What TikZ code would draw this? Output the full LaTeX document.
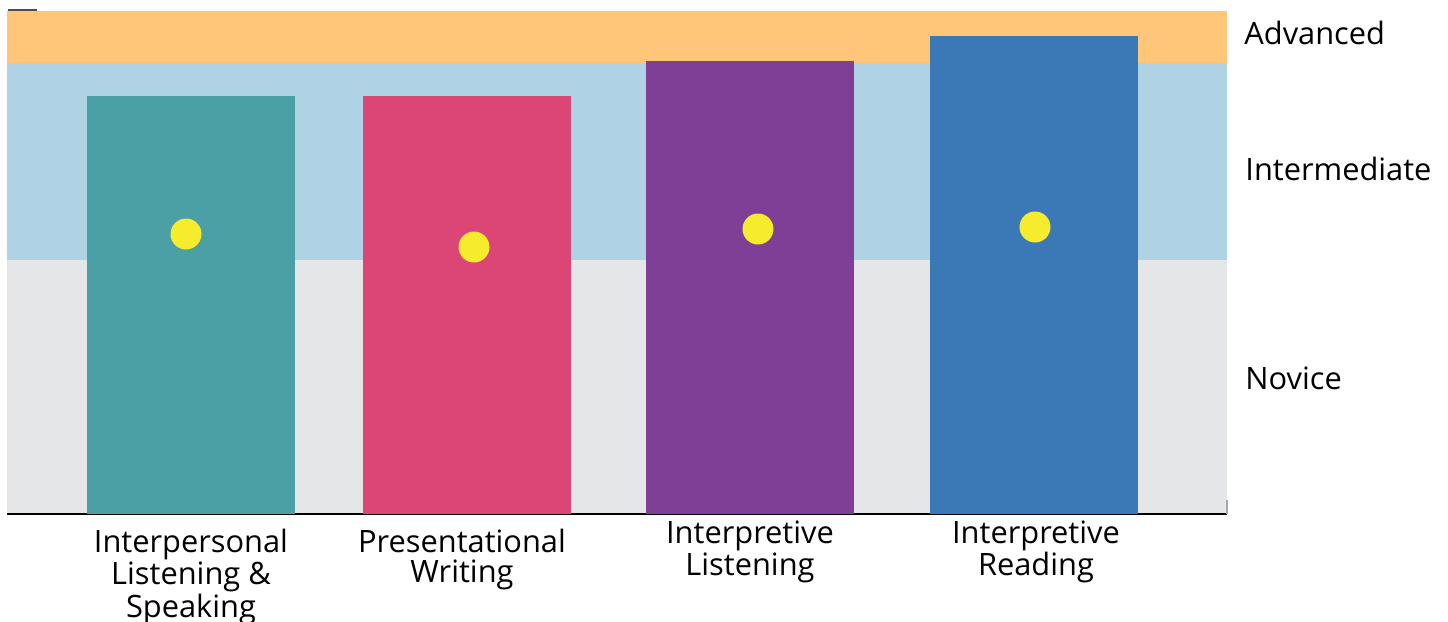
\documentclass[tikz,border=0pt]{standalone}
\usepackage{fontspec}
\setmainfont{Open Sans}
\usetikzlibrary{positioning}
\definecolor{advorange}{HTML}{FFC67A}
\definecolor{intblue}{HTML}{AFD2E4}
\definecolor{novgray}{HTML}{E5E6E8}
\definecolor{barteal}{HTML}{4AA0A5}
\definecolor{barpink}{HTML}{DC4676}
\definecolor{barpurple}{HTML}{7F3F97}
\definecolor{barblue}{HTML}{3A79B6}
\definecolor{dotyellow}{HTML}{F6EB2C}
\tikzset{%
   band/.style={
      inner sep=0mm,
      outer sep=0mm,
      anchor=north west,
      minimum width=610pt,
      minimum height=#1
   },
   bar/.style={
      inner sep=0mm,
      outer sep=0mm,
      anchor=south,
      minimum width=104pt,
      minimum height=#1
   },
   dot/.style={
      circle,
      inner sep=0mm,
      outer sep=0mm,
      minimum size=15.5pt,
      fill=dotyellow
   },
   level/.style={
      anchor=base west,
      inner sep=0pt,
      font=\fontsize{15.4}{15.4}\selectfont
   },
   skill/.style={
      anchor=north,
      align=center,
      inner sep=0pt,
      font=\fontsize{15.4}{15}\selectfont
   },
}

\begin{document}
\begin{tikzpicture}[x=0.5pt, y=-0.5pt]
   \useasboundingbox (0,0) rectangle (1448,622);
   % levels
   \node[band=26pt, fill=advorange] (adv) at (7,11) {};
   \node[band=98.5pt, fill=intblue] (int) at (adv.south west) {};
   \node[band=127pt, fill=novgray] (nov) at (int.south west) {};
   \draw[line width=1pt] (nov.south west) -- (nov.south east);
   \draw[gray!60!black, line width=0.8pt] (8,10) -- (37,10);
   \draw[gray!70, line width=0.8pt] (nov.south east) -- ++(0,-14);
   \node[level] at (1244,44) {Advanced};
   \node[level] at (1245,180) {Intermediate};
   \node[level] at (1245,389) {Novice};
   % bars
   \node[bar=209pt, fill=barteal] (ils) at (191,514) {};
   \node[bar=209pt, fill=barpink] (pw) at (467,514) {};
   \node[bar=226.5pt, fill=barpurple] (il) at (750,514) {};
   \node[bar=239pt, fill=barblue] (ir) at (1034,514) {};
   \node[dot] (ilsdot) at (186,234) {};
   \node[dot] (pwdot) at (474,247) {};
   \node[dot] (ildot) at (758,229) {};
   \node[dot] (irdot) at (1035,227) {};
   \node[skill, below=7.5pt of ils.south] {Interpersonal\\Listening \&\\Speaking};
   \node[skill, below=7.5pt of pw.south, xshift=-2.5pt] {Presentational\\Writing};
   \node[skill, below=3pt of il.south] {Interpretive\\Listening};
   \node[skill, below=3pt of ir.south, xshift=1pt] {Interpretive\\Reading};
\end{tikzpicture}
\end{document}
